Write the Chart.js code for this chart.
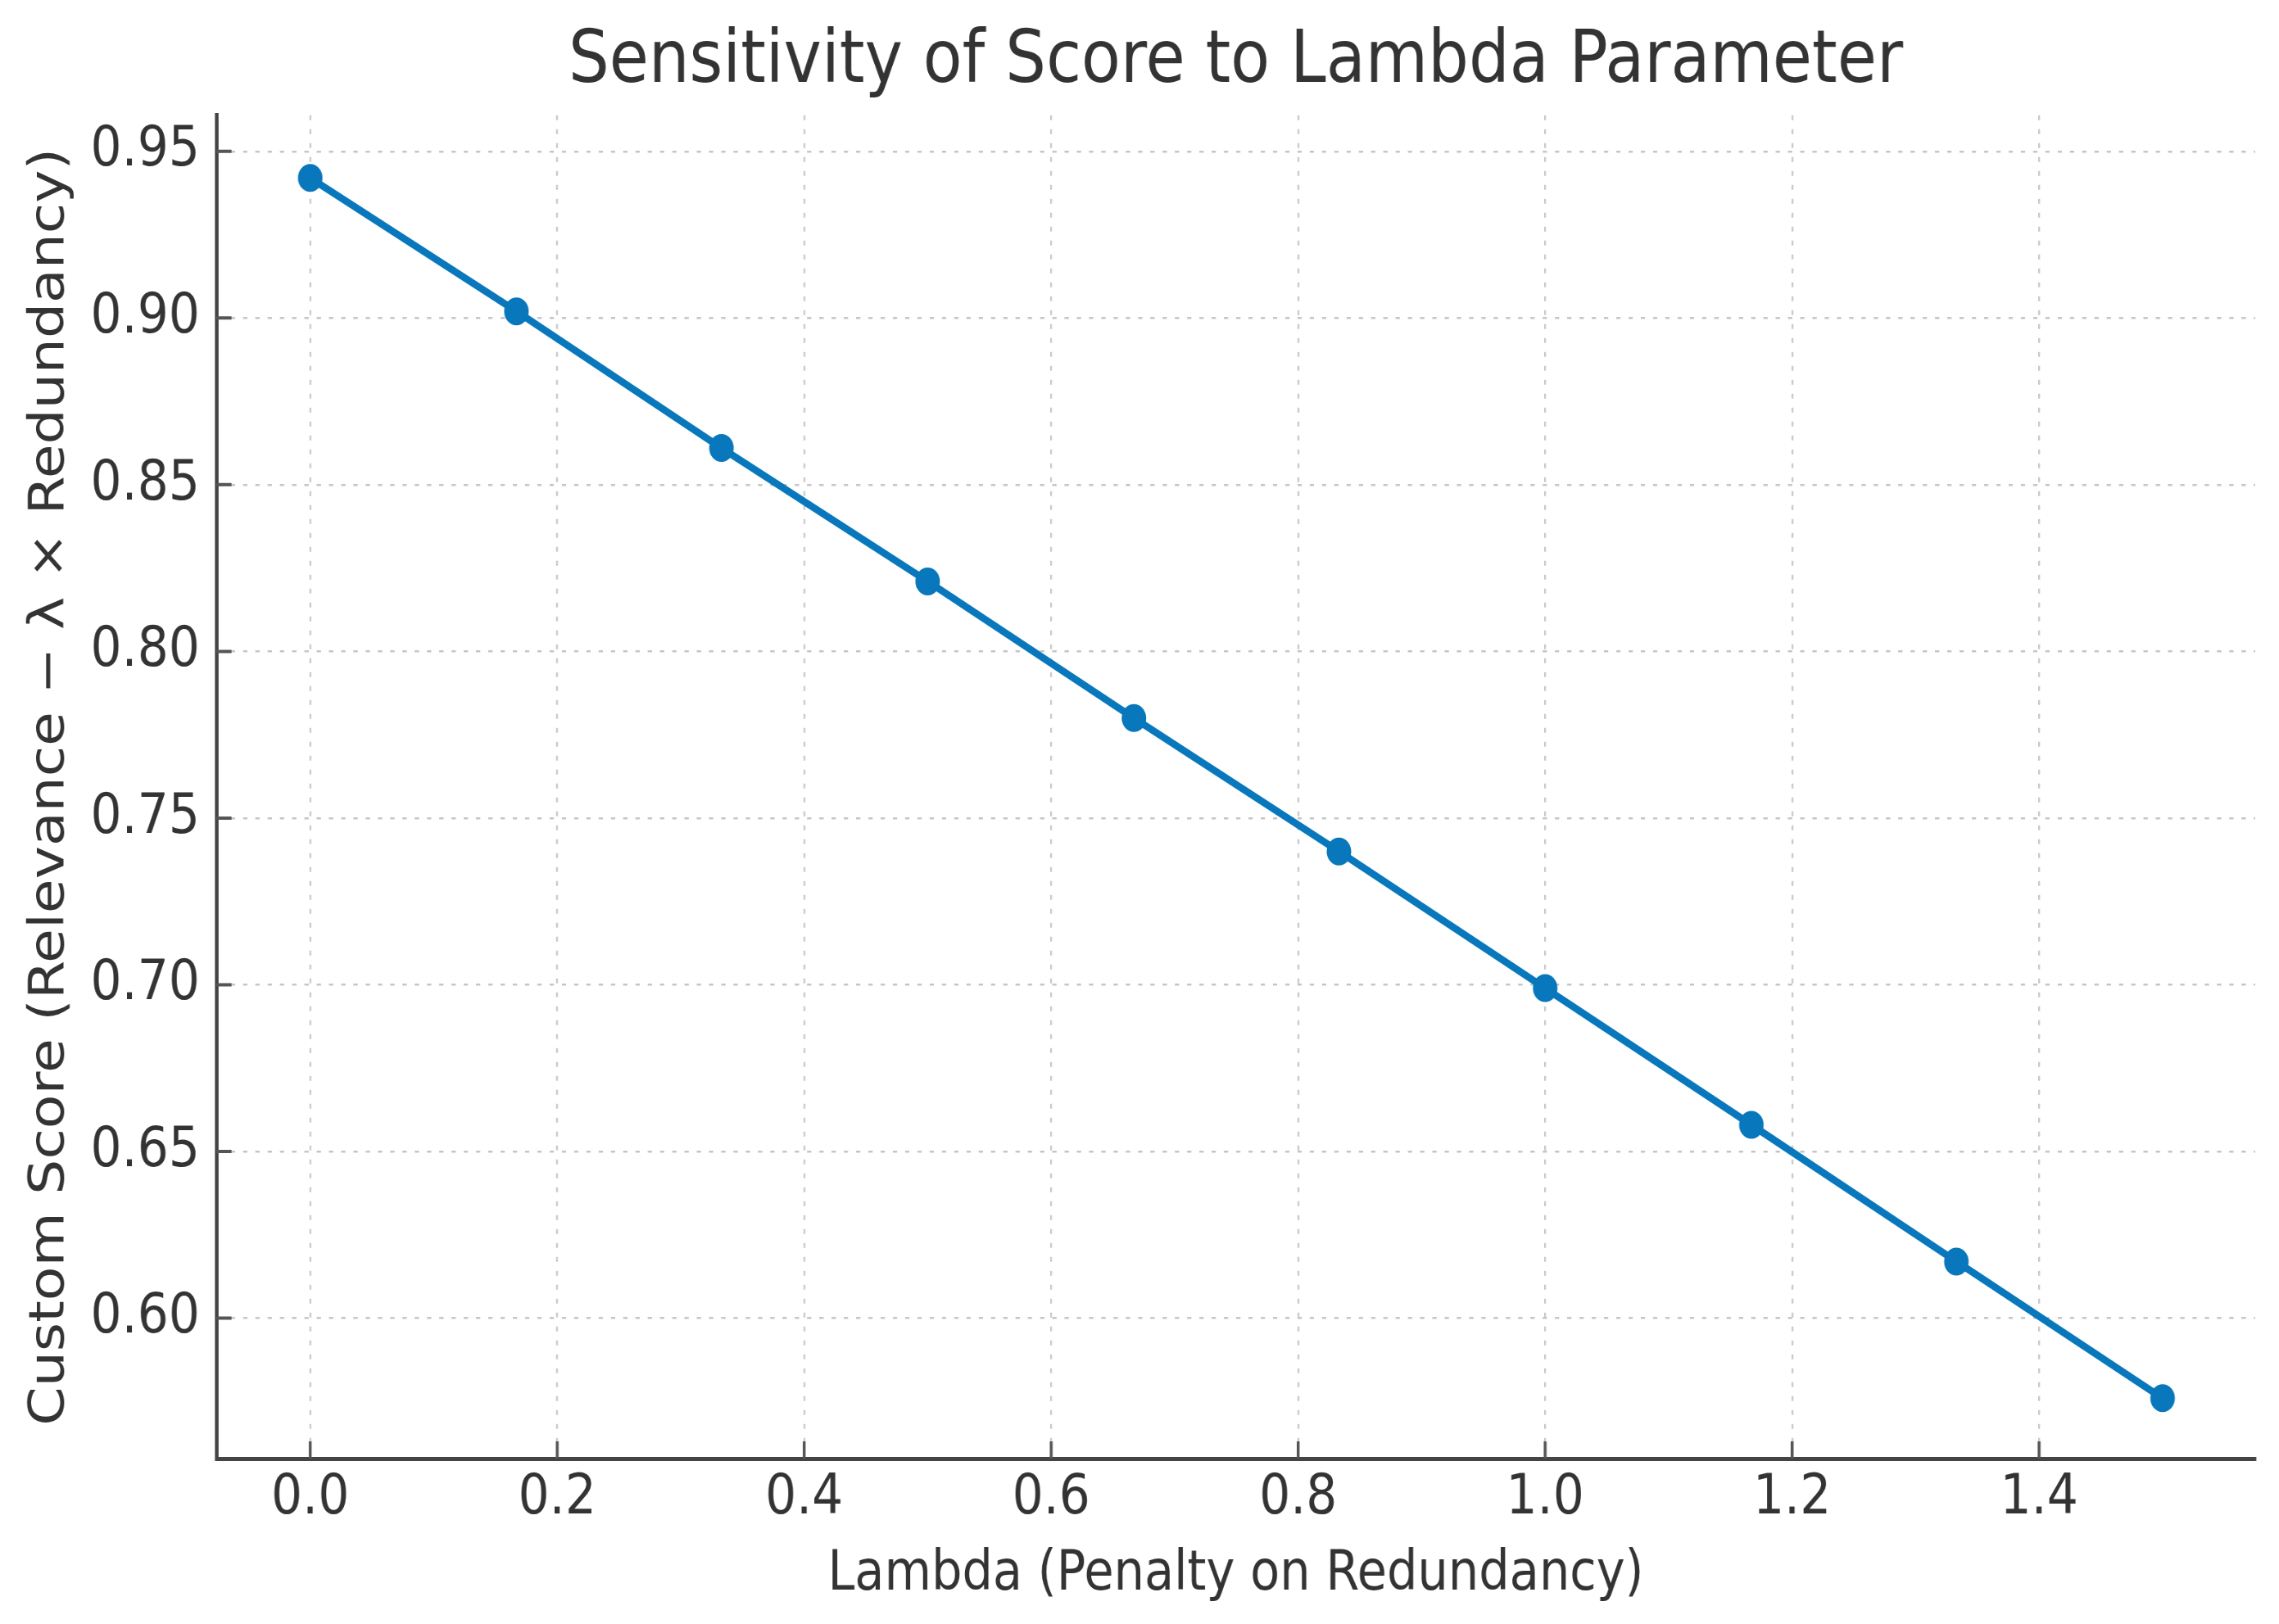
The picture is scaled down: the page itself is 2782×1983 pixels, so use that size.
<!DOCTYPE html>
<html>
<head>
<meta charset="utf-8">
<script src="https://cdn.jsdelivr.net/npm/chart.js@4.4.1/dist/chart.umd.min.js"></script>
<style>
html, body { margin: 0; padding: 0; background: #fff; overflow: hidden; }
#myChart { display: block; width: 2782px !important; height: 1983px !important; }
</style>
</head>
<body>
<canvas id="myChart" width="3160" height="1983"></canvas>
<script>
// values
var lambdas = [0.0, 0.167, 0.333, 0.5, 0.667, 0.833, 1.0, 1.167, 1.333, 1.5];
var scores = [0.942, 0.902, 0.861, 0.821, 0.780, 0.740, 0.699, 0.658, 0.617, 0.576];
var xTicks = [0.0, 0.2, 0.4, 0.6, 0.8, 1.0, 1.2, 1.4];
var yTicks = [0.60, 0.65, 0.70, 0.75, 0.80, 0.85, 0.90, 0.95];

var lineColor = '#0877bb';
var textColor = '#333333';
var fontFamily = "'DejaVu Sans', 'Noto Sans', sans-serif";

// matplotlib style ticks pointing into the plot
var insideTicks = {
    id: 'insideTicks',
    beforeDatasetsDraw: function(chart){
        var ctx = chart.ctx;
        var area = chart.chartArea;
        ctx.save();
        ctx.strokeStyle = '#555555';
        ctx.lineWidth = 4;
        ctx.beginPath();
        xTicks.forEach(function(v){
            var px = chart.scales.x.getPixelForValue(v);
            ctx.moveTo(px, area.bottom);
            ctx.lineTo(px, area.bottom - 21);
        });
        yTicks.forEach(function(v){
            var py = chart.scales.y.getPixelForValue(v);
            ctx.moveTo(area.left, py);
            ctx.lineTo(area.left + 21, py);
        });
        ctx.stroke();
        ctx.restore();
    }
};

function createChart(){
    var ctx = document.getElementById('myChart');
    var points = [];
    for(let i = 0; i < lambdas.length; i++){
        points.push({x: lambdas[i], y: scores[i]});
    }
    return new Chart(ctx, {
        type: 'line',
        data: {
            datasets: [{
                data: points,
                borderColor: lineColor,
                backgroundColor: lineColor,
                borderWidth: 9,
                pointRadius: 16,
                pointBorderWidth: 2,
                pointBorderColor: lineColor,
                pointBackgroundColor: lineColor,
                tension: 0,
                fill: false
            }]
        },
        plugins: [insideTicks],
        options: {
            responsive: false,
            animation: false,
            devicePixelRatio: 1,
            layout: { padding: { left: 0, right: 33, top: 0, bottom: 0 } },
            plugins: {
                legend: { display: false },
                tooltip: { enabled: false },
                title: {
                    display: true,
                    fullSize: false,
                    text: 'Sensitivity of Score to Lambda Parameter',
                    color: textColor,
                    font: { family: fontFamily, size: 89, weight: 'normal' },
                    padding: { top: 23, bottom: 11 }
                }
            },
            scales: {
                x: {
                    type: 'linear',
                    min: -0.076,
                    max: 1.575,
                    afterBuildTicks: function(scale){
                        scale.ticks = xTicks.map(function(v){ return {value: v}; });
                    },
                    afterFit: function(scale){ scale.height = 202; },
                    grid: { color: '#c6c6c6', lineWidth: 2.5, drawTicks: false, tickLength: 0 },
                    border: { display: true, color: '#444444', width: 5, dash: [6, 11] },
                    ticks: {
                        color: textColor,
                        padding: 9,
                        maxRotation: 0,
                        font: { family: fontFamily, size: 68 },
                        callback: function(v){ return Number(v).toFixed(1); }
                    },
                    title: {
                        display: true,
                        text: 'Lambda (Penalty on Redundancy)',
                        color: textColor,
                        font: { family: fontFamily, size: 67 },
                        padding: { top: 0, bottom: 19 }
                    }
                },
                y: {
                    min: 0.5579,
                    max: 0.9608,
                    afterBuildTicks: function(scale){
                        scale.ticks = yTicks.map(function(v){ return {value: v}; });
                    },
                    afterFit: function(scale){ scale.width = 300; },
                    grid: { color: '#c6c6c6', lineWidth: 2.5, drawTicks: false, tickLength: 0 },
                    border: { display: true, color: '#444444', width: 5, dash: [6, 11] },
                    ticks: {
                        color: textColor,
                        padding: 23,
                        font: { family: fontFamily, size: 68 },
                        callback: function(v){ return Number(v).toFixed(2); }
                    },
                    title: {
                        display: true,
                        text: 'Custom Score (Relevance \u2212 \u03bb \u00d7 Redundancy)',
                        color: textColor,
                        font: { family: fontFamily, size: 68 },
                        padding: { top: 30, bottom: 0 }
                    }
                }
            }
        }
    });
}

var chart = createChart();
</script>
</body>
</html>
